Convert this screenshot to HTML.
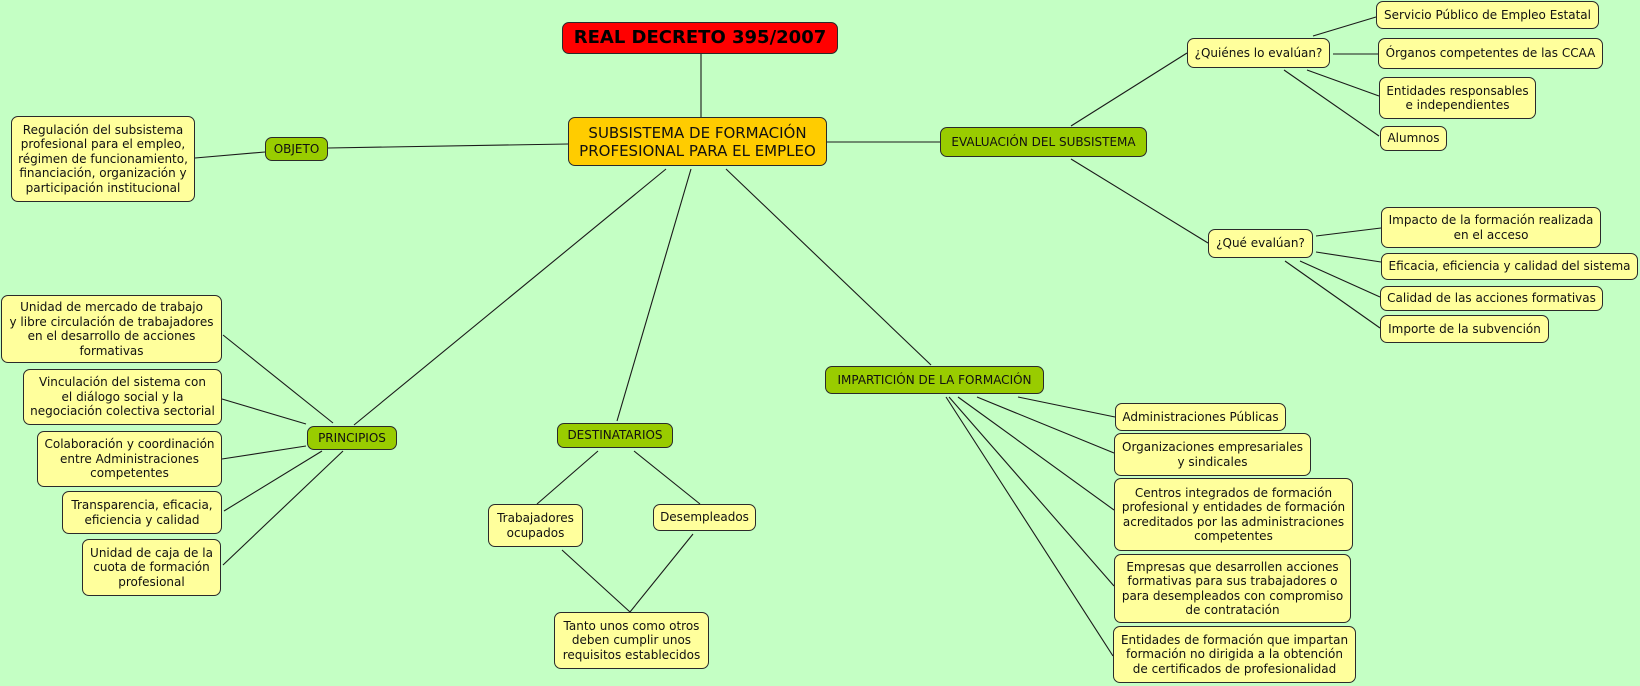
<!DOCTYPE html>
<html>
<head>
<meta charset="utf-8">
<style>
  html,body{margin:0;padding:0;}
  body{width:1640px;height:686px;background:#C4FFC4;position:relative;overflow:hidden;font-family:"DejaVu Sans","Liberation Sans",sans-serif;}
  svg{position:absolute;left:0;top:0;}
  .n{position:absolute;box-sizing:border-box;border:1px solid #2a2a2a;border-radius:7px;display:flex;align-items:center;justify-content:center;text-align:center;font-size:12px;line-height:14.5px;color:#111;white-space:nowrap;}
  .y{background:#FFFF9C;}
  .g{background:#99CC00;}
</style>
</head>
<body>
<svg width="1640" height="686" viewBox="0 0 1640 686">
  <g stroke="#1a1a1a" stroke-width="1.1" fill="none">
    <line x1="701" y1="54" x2="701" y2="117"/>
    <line x1="328" y1="148" x2="568" y2="144"/>
    <line x1="195" y1="158" x2="265" y2="152"/>
    <line x1="827" y1="142" x2="940" y2="142"/>
    <line x1="1071" y1="126" x2="1187" y2="53"/>
    <line x1="1071" y1="159" x2="1208" y2="243"/>
    <line x1="1313" y1="36" x2="1376" y2="17"/>
    <line x1="1333" y1="54" x2="1378" y2="54"/>
    <line x1="1307" y1="70" x2="1379" y2="96"/>
    <line x1="1284" y1="70" x2="1379" y2="136"/>
    <line x1="1316" y1="236" x2="1381" y2="228"/>
    <line x1="1316" y1="252" x2="1381" y2="262"/>
    <line x1="1300" y1="261" x2="1380" y2="297"/>
    <line x1="1285" y1="261" x2="1380" y2="328"/>
    <line x1="666" y1="169" x2="354" y2="425"/>
    <line x1="691" y1="169" x2="617" y2="421"/>
    <line x1="726" y1="169" x2="931" y2="365"/>
    <line x1="1018" y1="397" x2="1115" y2="417"/>
    <line x1="977" y1="397" x2="1114" y2="453"/>
    <line x1="958" y1="397" x2="1114" y2="510"/>
    <line x1="949" y1="397" x2="1114" y2="586"/>
    <line x1="946" y1="397" x2="1113" y2="656"/>
    <line x1="598" y1="451" x2="537" y2="504"/>
    <line x1="634" y1="451" x2="700" y2="504"/>
    <line x1="562" y1="550" x2="630" y2="612"/>
    <line x1="693" y1="534" x2="630" y2="612"/>
    <line x1="223" y1="335" x2="333" y2="423"/>
    <line x1="222" y1="399" x2="306" y2="424"/>
    <line x1="222" y1="459" x2="306" y2="446"/>
    <line x1="224" y1="511" x2="322" y2="451"/>
    <line x1="223" y1="565" x2="343" y2="451"/>
  </g>
</svg>

<div class="n" style="left:562px;top:22px;width:276px;height:32px;background:#FF0000;font-weight:bold;font-size:18px;line-height:20px;color:#000;">REAL DECRETO 395/2007</div>

<div class="n" style="left:568px;top:117px;width:259px;height:49px;background:#FFCC00;font-size:15px;line-height:18px;">SUBSISTEMA DE FORMACIÓN<br>PROFESIONAL PARA EL EMPLEO</div>

<div class="n g" style="left:265px;top:137px;width:63px;height:24px;">OBJETO</div>
<div class="n y" style="left:11px;top:116px;width:184px;height:86px;">Regulación del subsistema<br>profesional para el empleo,<br>régimen de funcionamiento,<br>financiación, organización y<br>participación institucional</div>

<div class="n g" style="left:940px;top:127px;width:207px;height:30px;">EVALUACIÓN DEL SUBSISTEMA</div>
<div class="n y" style="left:1187px;top:38px;width:143px;height:30px;">¿Quiénes lo evalúan?</div>
<div class="n y" style="left:1376px;top:1px;width:223px;height:28px;">Servicio Público de Empleo Estatal</div>
<div class="n y" style="left:1378px;top:38px;width:225px;height:31px;">Órganos competentes de las CCAA</div>
<div class="n y" style="left:1379px;top:77px;width:157px;height:42px;">Entidades responsables<br>e independientes</div>
<div class="n y" style="left:1380px;top:126px;width:67px;height:25px;">Alumnos</div>

<div class="n y" style="left:1208px;top:229px;width:105px;height:29px;">¿Qué evalúan?</div>
<div class="n y" style="left:1381px;top:207px;width:220px;height:41px;">Impacto de la formación realizada<br>en el acceso</div>
<div class="n y" style="left:1381px;top:253px;width:257px;height:27px;">Eficacia, eficiencia y calidad del sistema</div>
<div class="n y" style="left:1380px;top:286px;width:223px;height:25px;">Calidad de las acciones formativas</div>
<div class="n y" style="left:1380px;top:315px;width:169px;height:28px;">Importe de la subvención</div>

<div class="n g" style="left:825px;top:366px;width:219px;height:28px;">IMPARTICIÓN DE LA FORMACIÓN</div>
<div class="n y" style="left:1115px;top:403px;width:171px;height:28px;">Administraciones Públicas</div>
<div class="n y" style="left:1114px;top:433px;width:197px;height:43px;">Organizaciones empresariales<br>y sindicales</div>
<div class="n y" style="left:1114px;top:478px;width:239px;height:73px;">Centros integrados de formación<br>profesional y entidades de formación<br>acreditados por las administraciones<br>competentes</div>
<div class="n y" style="left:1114px;top:554px;width:237px;height:69px;">Empresas que desarrollen acciones<br>formativas para sus trabajadores o<br>para desempleados con compromiso<br>de contratación</div>
<div class="n y" style="left:1113px;top:626px;width:243px;height:57px;">Entidades de formación que impartan<br>formación no dirigida a la obtención<br>de certificados de profesionalidad</div>

<div class="n g" style="left:557px;top:423px;width:116px;height:25px;">DESTINATARIOS</div>
<div class="n y" style="left:488px;top:504px;width:95px;height:43px;">Trabajadores<br>ocupados</div>
<div class="n y" style="left:653px;top:504px;width:103px;height:27px;">Desempleados</div>
<div class="n y" style="left:554px;top:612px;width:155px;height:57px;">Tanto unos como otros<br>deben cumplir unos<br>requisitos establecidos</div>

<div class="n g" style="left:307px;top:426px;width:90px;height:24px;">PRINCIPIOS</div>
<div class="n y" style="left:1px;top:295px;width:221px;height:68px;">Unidad de mercado de trabajo<br>y libre circulación de trabajadores<br>en el desarrollo de acciones<br>formativas</div>
<div class="n y" style="left:23px;top:369px;width:199px;height:56px;">Vinculación del sistema con<br>el diálogo social y la<br>negociación colectiva sectorial</div>
<div class="n y" style="left:37px;top:431px;width:185px;height:56px;">Colaboración y coordinación<br>entre Administraciones<br>competentes</div>
<div class="n y" style="left:62px;top:491px;width:160px;height:43px;">Transparencia, eficacia,<br>eficiencia y calidad</div>
<div class="n y" style="left:82px;top:539px;width:139px;height:57px;">Unidad de caja de la<br>cuota de formación<br>profesional</div>
</body>
</html>
